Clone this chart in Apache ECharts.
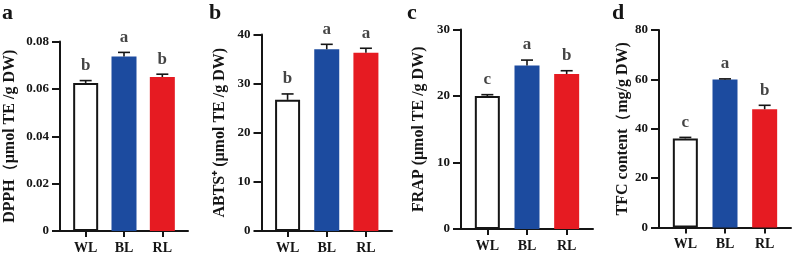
<!DOCTYPE html>
<html>
<head>
<meta charset="utf-8">
<script src="https://cdn.jsdelivr.net/npm/echarts@6/dist/echarts.min.js"></script>
<style>
  html, body { margin: 0; padding: 0; background: #fff; }
  #chart { width: 794px; height: 256px; }
</style>
</head>
<body>
<div id="chart"></div>
<script>
// groups on every panel
const categories = ['WL', 'BL', 'RL'];

// panel a - DPPH
const dpphMean = [0.0625, 0.0737, 0.065];
const dpphErr = [0.001, 0.0017, 0.0012];
const dpphSig = ['b', 'a', 'b'];

// panel b - ABTS+
const abtsMean = [26.7, 37.0, 36.3];
const abtsErr = [1.2, 1.0, 0.9];
const abtsSig = ['b', 'a', 'a'];

// panel c - FRAP
const frapMean = [20.0, 24.6, 23.3];
const frapErr = [0.2, 0.8, 0.5];
const frapSig = ['c', 'a', 'b'];

// panel d - TFC
const tfcMean = [36.1, 60.0, 47.9];
const tfcErr = [0.4, 0.2, 1.6];
const tfcSig = ['c', 'a', 'b'];

// y axis ranges (max / interval)
const yMax = [0.08, 40, 30, 80];
const yStep = [0.02, 10, 10, 20];

const panelLetters = ['a', 'b', 'c', 'd'];
const yNames = ['DPPH（μmol TE /g DW)', 'ABTS⁺ (μmol TE /g DW)', 'FRAP (μmol TE /g DW)', 'TFC content（mg/g DW)'];

const means = [dpphMean, abtsMean, frapMean, tfcMean];
const errs = [dpphErr, abtsErr, frapErr, tfcErr];
const sigs = [dpphSig, abtsSig, frapSig, tfcSig];

// layout: y axis x, x axis end, top of y axis, zero line
const layout = [
  { ax: 60, end: 188, top: 41.5, zero: 231, gap: 42, letterX: 2 },
  { ax: 261.5, end: 392, top: 34.5, zero: 231, gap: 33.5, letterX: 209 },
  { ax: 461, end: 593, top: 29.5, zero: 229, gap: 34, letterX: 407 },
  { ax: 659, end: 791, top: 30, zero: 227.5, gap: 28.5, letterX: 612 }
];

const FONT = "'Liberation Serif', 'Times New Roman', serif";
const INK = '#151515';
const barColors = ['#ffffff', '#1c4b9f', '#e61b22'];

const grids = [], xAxes = [], yAxes = [], series = [], titles = [];

layout.forEach(function (p, i) {
  const h = p.zero - p.top;
  // grid for the axis frame (y axis + full x axis line)
  grids.push({ left: p.ax, top: p.top, width: p.end - p.ax, height: h });
  // grid for bars, a bit inset from the y axis
  grids.push({ left: p.ax + 6.5, top: p.top, width: p.end - p.ax - 13, height: h });

  xAxes.push({
    gridIndex: i * 2, type: 'value', min: 0, max: 1,
    axisLine: { show: true, lineStyle: { color: INK, width: 2 } },
    axisTick: { show: false }, axisLabel: { show: false }, splitLine: { show: false }
  });
  xAxes.push({
    gridIndex: i * 2 + 1, type: 'category', data: categories,
    axisLine: { show: false },
    axisTick: { show: true, alignWithLabel: true, length: 6, lineStyle: { color: INK, width: 2 } },
    axisLabel: { color: INK, fontFamily: FONT, fontWeight: 'bold', fontSize: 14, margin: 10 }
  });

  yAxes.push({
    gridIndex: i * 2, type: 'value', min: 0, max: yMax[i], interval: yStep[i],
    name: yNames[i], nameLocation: 'middle', nameGap: p.gap, nameRotate: 90,
    nameTextStyle: { color: INK, fontFamily: FONT, fontWeight: 'bold', fontSize: 16 },
    axisLine: { show: true, lineStyle: { color: INK, width: 2 } },
    axisTick: { show: true, length: 8, lineStyle: { color: INK, width: 2 } },
    axisLabel: { color: INK, fontFamily: FONT, fontWeight: 'bold', fontSize: 13, margin: 11 },
    splitLine: { show: false }
  });
  yAxes.push({ gridIndex: i * 2 + 1, type: 'value', min: 0, max: yMax[i], show: false });

  titles.push({
    text: panelLetters[i], left: p.letterX, top: 2, padding: 0,
    textStyle: { color: INK, fontFamily: FONT, fontWeight: 'bold', fontSize: 22 }
  });

  const m = means[i], e = errs[i], s = sigs[i];

  series.push({
    type: 'bar', xAxisIndex: i * 2 + 1, yAxisIndex: i * 2 + 1, barWidth: 25,
    data: m.map(function (v, j) {
      return j === 0
        ? { value: v, itemStyle: { color: barColors[0], borderColor: INK, borderWidth: 2 } }
        : { value: v, itemStyle: { color: barColors[j] } };
    })
  });

  series.push({
    type: 'custom', xAxisIndex: i * 2 + 1, yAxisIndex: i * 2 + 1, z: 5,
    data: m.map(function (v, j) { return [j, v, e[j]]; }),
    encode: { x: 0, y: 1 },
    renderItem: function (params, api) {
      const p0 = api.coord([api.value(0), api.value(1)]);
      const p1 = api.coord([api.value(0), api.value(1) + api.value(2)]);
      const st = { stroke: INK, lineWidth: 1.6 };
      return {
        type: 'group',
        children: [
          { type: 'line', shape: { x1: p0[0], y1: p0[1], x2: p1[0], y2: p1[1] }, style: st },
          { type: 'line', shape: { x1: p1[0] - 6, y1: p1[1], x2: p1[0] + 6, y2: p1[1] }, style: st }
        ]
      };
    }
  });

  series.push({
    type: 'scatter', xAxisIndex: i * 2 + 1, yAxisIndex: i * 2 + 1, z: 6,
    symbolSize: 1, itemStyle: { color: 'rgba(0,0,0,0)' },
    data: m.map(function (v, j) { return [j, v + e[j]]; }),
    label: {
      show: true, position: 'top', distance: 6,
      formatter: function (d) { return s[d.dataIndex]; },
      color: INK, fontFamily: FONT, fontWeight: 'bold', fontSize: 17
    }
  });
});

const chart = echarts.init(document.getElementById('chart'));
chart.setOption({
  animation: false,
  title: titles,
  grid: grids,
  xAxis: xAxes,
  yAxis: yAxes,
  series: series
});
</script>
</body>
</html>
